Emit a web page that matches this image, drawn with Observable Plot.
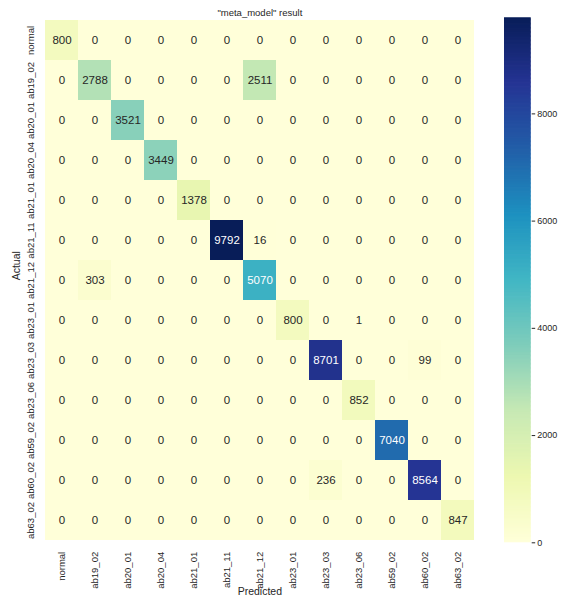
<!DOCTYPE html>
<html>
<head>
<meta charset="utf-8">
<script src="https://cdn.jsdelivr.net/npm/d3@7"></script>
<script src="https://cdn.jsdelivr.net/npm/@observablehq/plot@0.6"></script>
<style>
  body { margin: 0; background: #fff; }
  #wrap { position: relative; width: 563px; height: 599px; font-family: "Liberation Sans", Arial, sans-serif; color: #262626; }
  #heat, #bar { position: absolute; top: 0; }
  #heat { left: 0; }
  #bar { left: 504px; }
</style>
</head>
<body>
<div id="wrap"><div id="heat"></div><div id="bar"></div></div>
<script>
// Class labels (rows = actual, columns = predicted)
const classes = ["normal", "ab19_02", "ab20_01", "ab20_04", "ab21_01", "ab21_11", "ab21_12",
                 "ab23_01", "ab23_03", "ab23_06", "ab59_02", "ab60_02", "ab63_02"];

// Confusion-matrix counts, one row per actual class
const counts = [
  [800, 0, 0, 0, 0, 0, 0, 0, 0, 0, 0, 0, 0],
  [0, 2788, 0, 0, 0, 0, 2511, 0, 0, 0, 0, 0, 0],
  [0, 0, 3521, 0, 0, 0, 0, 0, 0, 0, 0, 0, 0],
  [0, 0, 0, 3449, 0, 0, 0, 0, 0, 0, 0, 0, 0],
  [0, 0, 0, 0, 1378, 0, 0, 0, 0, 0, 0, 0, 0],
  [0, 0, 0, 0, 0, 9792, 16, 0, 0, 0, 0, 0, 0],
  [0, 303, 0, 0, 0, 0, 5070, 0, 0, 0, 0, 0, 0],
  [0, 0, 0, 0, 0, 0, 0, 800, 0, 1, 0, 0, 0],
  [0, 0, 0, 0, 0, 0, 0, 0, 8701, 0, 0, 99, 0],
  [0, 0, 0, 0, 0, 0, 0, 0, 0, 852, 0, 0, 0],
  [0, 0, 0, 0, 0, 0, 0, 0, 0, 0, 7040, 0, 0],
  [0, 0, 0, 0, 0, 0, 0, 0, 236, 0, 0, 8564, 0],
  [0, 0, 0, 0, 0, 0, 0, 0, 0, 0, 0, 0, 847]
];

// YlGnBu colour stops
const ylgnbu = ["#ffffd9", "#edf8b1", "#c7e9b4", "#7fcdbb", "#41b6c4", "#1d91c0", "#225ea8", "#253494", "#081d58"];

const cbarTicks = [0, 2000, 4000, 6000, 8000];
const title = '"meta_model" result';
const xTitle = "Predicted";
const yTitle = "Actual";

const cells = counts.flatMap((row, i) => row.map((v, j) => ({actual: classes[i], predicted: classes[j], value: v})));
const vmax = d3.max(cells, d => d.value);
const stops = ylgnbu.map((_, i) => i * vmax / (ylgnbu.length - 1));
const colorScale = {type: "linear", domain: stops, range: ylgnbu, interpolate: "rgb"};

// annotation colour follows the cell's luminance
const toColor = d3.scaleLinear().domain(stops).range(ylgnbu).interpolate(d3.interpolateRgb);
function luminance(c) {
  const {r, g, b} = d3.rgb(c);
  const f = v => { v /= 255; return v <= 0.03928 ? v / 12.92 : Math.pow((v + 0.055) / 1.055, 2.4); };
  return 0.2126 * f(r) + 0.7152 * f(g) + 0.0722 * f(b);
}
const onDark = d => luminance(toColor(d.value)) <= 0.408;

const font = '"Liberation Sans", Arial, sans-serif';
const mTop = 17.3, mBottom = 56.7;
const heatW = 490;

const heat = Plot.plot({
  width: heatW,
  height: 599,
  marginLeft: 42,
  marginRight: heatW - 476.7,
  marginTop: mTop,
  marginBottom: mBottom,
  style: {fontFamily: font, fontSize: "9.5px", color: "#262626", background: "transparent", overflow: "visible"},
  x: {domain: classes, padding: 0, label: null},
  y: {domain: classes, padding: 0, label: null},
  color: colorScale,
  marks: [
    Plot.cell(cells, {x: "predicted", y: "actual", fill: "value", inset: 0}),
    Plot.text(cells.filter(d => !onDark(d)), {x: "predicted", y: "actual", text: d => String(d.value), fill: "#262626", fontSize: 11.5}),
    Plot.text(cells.filter(onDark), {x: "predicted", y: "actual", text: d => String(d.value), fill: "white", fontSize: 11.5}),
    Plot.axisX({tickRotate: -90, tickSize: 0, tickPadding: 9, label: null}),
    Plot.axisY({tickRotate: -90, tickSize: 0, tickPadding: 8.5, label: null}),
    Plot.text([title], {text: d => d, frameAnchor: "top", lineAnchor: "middle", dy: -4.8, fontSize: 9.5}),
    Plot.text([xTitle], {text: d => d, frameAnchor: "bottom", lineAnchor: "middle", dy: 48.5, fontSize: 10.5}),
    Plot.text([yTitle], {text: d => d, frameAnchor: "left", lineAnchor: "middle", rotate: -90, dx: -26, fontSize: 10.5})
  ]
});
document.getElementById("heat").appendChild(heat);

// vertical colour bar
const step = vmax / 400;
const bands = d3.range(0, vmax, step);
const barW = 59;
const bar = Plot.plot({
  width: barW,
  height: 599,
  marginLeft: 0,
  marginRight: barW - 26.7,
  marginTop: mTop,
  marginBottom: mBottom,
  style: {fontFamily: font, fontSize: "9px", color: "#262626", background: "transparent", overflow: "visible"},
  x: {domain: [0, 1], axis: null},
  y: {domain: [0, vmax], axis: null},
  color: colorScale,
  marks: [
    Plot.rect(bands, {x1: 0, x2: 1, y1: d => d, y2: d => Math.min(vmax, d + step * 1.6), fill: d => d + step / 2}),
    Plot.axisY(cbarTicks, {anchor: "right", tickSize: 3.5, tickPadding: 2.5, tickFormat: d => String(d), label: null})
  ]
});
document.getElementById("bar").appendChild(bar);
</script>
</body>
</html>
